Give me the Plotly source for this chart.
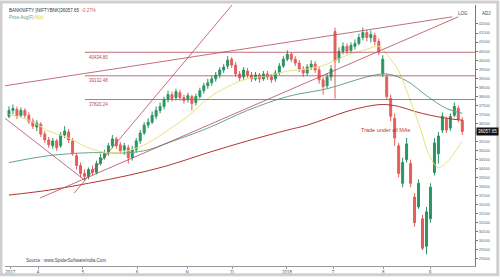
import plotly.graph_objects as go

# ---------------- data ----------------
opens = [36892,37219,37274,36947,37219,36947,36620,36293,36456,35911,35584,35257,35530,35257,35857,36020,35530,34712,34167,33731,
         33568,33949,33786,34276,34603,34876,35257,35639,35312,35039,35148,34603,35039,35530,35966,36402,36565,36892,37219,37437,
         37819,38091,37928,38200,37928,37819,37982,37655,37982,38309,38582,38745,38963,39181,39454,39672,40053,39726,39236,39072,
         39399,39181,38963,39181,38963,39236,39072,38963,39290,39672,40053,40326,40053,39835,39508,39290,39617,39781,39454,38909,
         38582,39072,41579,40053,40489,40762,40544,40762,40925,41252,41525,41252,41361,41034,39236,39072,37873,36783,35257,33186,
         34494,34276,32423,31878,31224,29698,31224,33786,34821,36129,36729,36238,36947,37328,36674]
highs = [37437,37546,37437,37383,37328,37110,36783,36674,36565,36075,35748,35693,35639,36020,36347,36184,35693,34876,34331,33949,
         34058,34167,34440,34821,35039,35421,35857,35748,35475,35421,35312,35257,35693,36129,36565,36783,37165,37437,37655,37982,
         38309,38255,38418,38364,38091,38200,38091,38146,38473,38745,38963,39127,39345,39617,39781,40217,40162,39890,39399,39617,
         39563,39345,39345,39290,39399,39399,39236,39454,39835,40217,40544,40435,40217,39999,39672,39781,39999,39944,39617,39072,
         39290,39726,41797,40707,40980,40925,40980,41143,41470,41797,41688,41634,41525,41198,40271,39236,38091,37056,35421,34603,
         35693,34494,32641,33404,31442,31878,33186,35693,36020,37110,36892,37056,37655,37492,36838]
lows = [36783,37001,36729,36838,36783,36456,36184,36075,35748,35421,35148,35094,34985,35148,35693,35421,34712,33949,33513,33350,
        33404,33622,33677,34167,34494,34712,35148,35094,34821,34767,34276,34440,34876,35366,35857,36238,36456,36729,37056,37274,
        37655,37710,37764,37764,37601,37655,37219,37492,37873,38146,38418,38582,38800,39018,39290,39508,39563,39072,38854,38909,
        39018,38800,38854,38745,38854,38909,38745,38800,39181,39563,39944,39890,39672,39345,39072,39127,39454,39290,38691,38091,
        38418,38854,37873,39835,40326,40326,40380,40598,40816,41089,41034,40980,40816,40271,39072,37819,36620,35257,33513,32968,
        34331,32968,30788,31769,29480,29262,31006,33622,34276,35966,35966,36075,36838,36565,35857]
closes = [37219,37328,36892,37219,36947,36620,36347,36511,35911,35584,35312,35530,35148,35857,36075,35584,34821,34167,33731,33568,
          33949,33786,34276,34603,34821,35257,35639,35257,34985,35257,34603,35039,35530,35966,36402,36565,36947,37219,37437,37819,
          38091,37873,38255,37928,37764,38037,37601,37982,38309,38582,38745,38963,39181,39454,39617,39999,39726,39236,39018,39454,
          39181,38963,39181,38963,39236,39072,38909,39290,39672,40053,40326,40053,39835,39508,39290,39617,39781,39454,38909,38527,
          39072,39508,39944,40489,40762,40489,40816,40925,41252,41525,41252,41416,41034,40489,40053,37982,36892,35693,33731,34331,
          35366,33186,31006,33186,29589,31606,32968,35421,35802,36892,36129,36892,37437,36729,36057.65]
idx = list(range(len(closes)))

ma_fast_x = [0,5,10,15,20,25,30,35,40,45,50,55,60,65,70,75,80,85,90,93,95,98,100,103,106,108,110,112,114]
ma_fast_y = [37001,36674,36075,35693,35148,34876,34985,35421,36129,36892,37873,38527,38963,39127,39399,39508,39781,40271,
             40598,40762,40326,39399,38309,36511,34603,34058,34331,34876,35530]
ma_mid_x = [0,10,20,30,35,40,50,60,70,80,85,90,95,100,105,110,114]
ma_mid_y = [34331,34712,34876,34876,35039,35421,36238,37219,37982,38418,38745,39072,39236,38854,38037,37328,37056]
ma_slow_x = [0,10,20,30,40,50,60,70,75,80,85,90,94,98,102,106,110,114]
ma_slow_y = [32532,32805,33186,33622,34167,34876,35530,36129,36402,36783,37165,37437,37546,37437,37165,36947,36783,36674]

# drawn trend lines (index, price) endpoints
tl_upper_x = [-1, 111.5];  tl_upper_y = [38582, 42397]
tl_wedge_x = [7.8, 113];   tl_wedge_y = [32369, 42397]
tl_steep_x = [16.4, 56.1]; tl_steep_y = [32641, 43051]
tl_down_x = [-1, 19.1];    tl_down_y = [36783, 33350]

levels = [40434.80, 39132.48, 37820.24]
level_start = 19.1

xtick_pos = [0.3, 7.3, 18.6, 32.2, 44.8, 56.1, 69.9, 81.5, 94.1, 105.9]
xtick_txt = ["2017", "4", "5", "6", "N", "D", "2018", "7", "8", "9"]
ytick_vals = list(range(29000, 42001, 500))

GREEN = "#2b9463"
RED = "#e45e5a"
LINE = "#b34a5a"
FONT = "Liberation Sans"

fig = go.Figure()

fig.add_trace(go.Scatter(x=ma_slow_x, y=ma_slow_y, mode="lines", line=dict(color="#b43434", width=1, shape="spline"), hoverinfo="skip"))
fig.add_trace(go.Scatter(x=ma_mid_x, y=ma_mid_y, mode="lines", line=dict(color="#66a38c", width=1, shape="spline"), hoverinfo="skip"))
fig.add_trace(go.Scatter(x=ma_fast_x, y=ma_fast_y, mode="lines", line=dict(color="#e8e27e", width=1, shape="spline"), hoverinfo="skip"))

fig.add_trace(go.Candlestick(
    x=idx, open=opens, high=highs, low=lows, close=closes,
    increasing=dict(line=dict(color=GREEN, width=1), fillcolor=GREEN),
    decreasing=dict(line=dict(color=RED, width=1), fillcolor=RED),
    whiskerwidth=0))

for xs, ys in [(tl_upper_x, tl_upper_y), (tl_wedge_x, tl_wedge_y), (tl_steep_x, tl_steep_y), (tl_down_x, tl_down_y)]:
    fig.add_trace(go.Scatter(x=xs, y=ys, mode="lines", line=dict(color=LINE, width=0.8), hoverinfo="skip"))

for lv in levels:
    fig.add_trace(go.Scatter(x=[level_start, 117.2], y=[lv, lv], mode="lines", line=dict(color=LINE, width=0.8), hoverinfo="skip"))
    fig.add_annotation(x=level_start + 0.4, y=lv, text=f"{lv:.2f}", showarrow=False, xanchor="left", yanchor="top",
                       yshift=-0.5, font=dict(size=4.5, color=LINE, family=FONT))

fig.add_annotation(x=94.8, y=36129, text="Trade under all MAs", showarrow=False,
                   font=dict(size=5.5, color="#c8302c", family=FONT))

# header
fig.add_annotation(xref="paper", yref="paper", x=0.004, y=0.995, xanchor="left", yanchor="top", showarrow=False,
                   text="BANKNIFTY [NIFTYBNK]36057.65  <span style='color:#e05555'>-0.27%</span>",
                   font=dict(size=4.5, color="#333", family=FONT))
fig.add_annotation(xref="paper", yref="paper", x=0.004, y=0.97, xanchor="left", yanchor="top", showarrow=False,
                   text="<span style='color:#5f9e86'>Price Avg(F)</span> <span style='color:#d6c840'>N(c)</span>",
                   font=dict(size=4.5, color="#333", family=FONT))
fig.add_annotation(xref="paper", yref="paper", x=0.04, y=0.005, xanchor="left", yanchor="bottom", showarrow=False,
                   text="Source : www.SpiderSoftwareIndia.Com", font=dict(size=4.5, color="#444", family=FONT))
fig.add_annotation(xref="paper", yref="paper", x=0.99, y=0.985, xanchor="right", yanchor="top", showarrow=False,
                   text="LOG", font=dict(size=4.5, color="#444", family=FONT))
fig.add_annotation(xref="paper", yref="paper", x=1.01, y=0.985, xanchor="left", yanchor="top", showarrow=False,
                   text="ADJ", font=dict(size=4.5, color="#444", family=FONT))
# last price tag (covers the nearby axis label, as in the reference)
fig.add_annotation(xref="paper", x=1.0, y=closes[-1], xanchor="left", showarrow=False, xshift=1,
                   text=f"{closes[-1]:.2f}", bgcolor="#111", borderpad=1,
                   font=dict(size=4.5, color="#fff", family=FONT))

fig.add_shape(type="rect", xref="paper", yref="paper", x0=-0.0085, x1=1.0485, y0=-0.034, y1=1.0115,
              line=dict(color="#cfcfcf", width=3), layer="above")

ytick_txt = ["" if abs(v - closes[-1]) < 300 else str(v) for v in ytick_vals]

fig.update_layout(
    width=500, height=280, margin=dict(l=5, r=25, t=5, b=10),
    paper_bgcolor="white", plot_bgcolor="white", showlegend=False,
    font=dict(family=FONT),
    xaxis=dict(range=[-1, 117.2], showgrid=False, zeroline=False, showline=True, linecolor="#999", linewidth=1,
               ticks="outside", ticklen=2, tickcolor="#999", tickvals=xtick_pos, ticktext=xtick_txt,
               tickfont=dict(size=4.5, color="#555"), rangeslider=dict(visible=False), fixedrange=True),
    yaxis=dict(side="right", range=[28608, 43051], showgrid=False, zeroline=False, showline=True, linecolor="#777",
               linewidth=1, ticks="outside", ticklen=2, tickcolor="#777", tickvals=ytick_vals,
               ticktext=ytick_txt, tickfont=dict(size=4, color="#666"), fixedrange=True),
)

fig.write_html("out.html")
